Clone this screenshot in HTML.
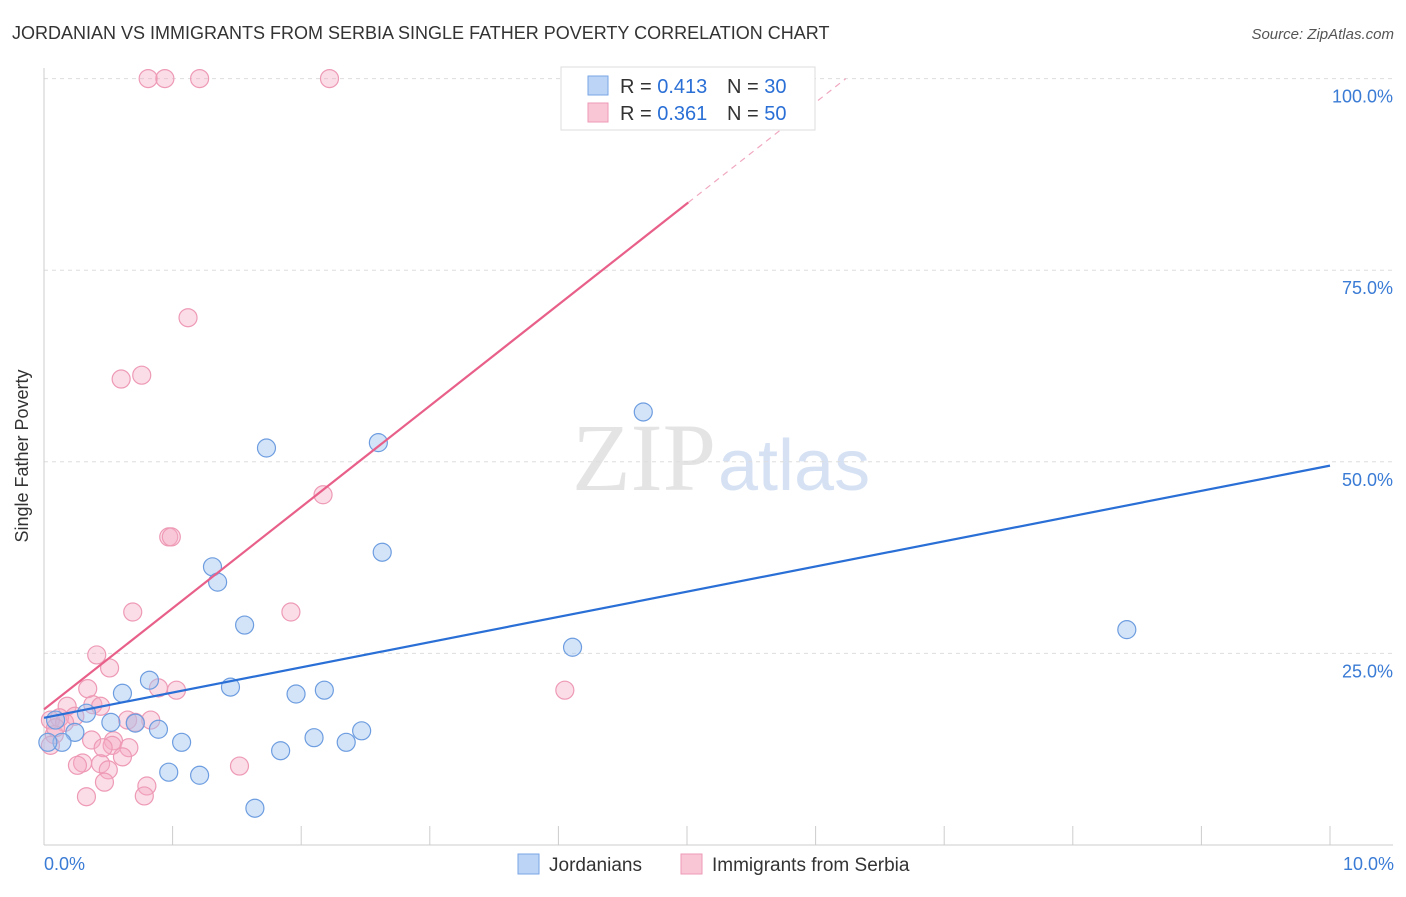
<!DOCTYPE html>
<html><head><meta charset="utf-8"><style>
body{margin:0;background:#fff;font-family:"Liberation Sans",sans-serif;}
</style></head><body>
<svg width="1406" height="892" xmlns="http://www.w3.org/2000/svg">
<text x="12" y="39" font-size="18" fill="#333">JORDANIAN VS IMMIGRANTS FROM SERBIA SINGLE FATHER POVERTY CORRELATION CHART</text>
<text x="1394" y="39" font-size="15" fill="#555" font-style="italic" text-anchor="end">Source: ZipAtlas.com</text>
<text x="716" y="490" font-size="96" fill="#e4e4e4" text-anchor="end" font-family="Liberation Serif,serif">ZIP</text>
<text x="718" y="490" font-size="72" fill="#d6e2f4">atlas</text>
<g id="grid"></g>
<line x1="44" y1="68" x2="44" y2="845" stroke="#ccc"/>
<line x1="44" y1="845" x2="1393" y2="845" stroke="#ccc"/>
<g id="ticks"></g>
<text x="28" y="456" font-size="18" fill="#333" text-anchor="middle" transform="rotate(-90 28 456)">Single Father Poverty</text>
<text x="44" y="870" font-size="18" fill="#3a7bd5">0.0%</text>
<text x="1394" y="870" font-size="18" fill="#3a7bd5" text-anchor="end">10.0%</text>
<g id="marks"></g>
<g>
<rect x="561" y="67" width="254" height="63" fill="#fff" stroke="#ddd"/>
<rect x="588" y="76" width="20" height="19" fill="#bcd4f5" stroke="#7aa6e6"/>
<rect x="588" y="103" width="20" height="19" fill="#f9c6d6" stroke="#ee9ab5"/>
<text x="620" y="93" font-size="20" fill="#333">R = <tspan fill="#2a6fd6">0.413</tspan></text>
<text x="727" y="93" font-size="20" fill="#333">N = <tspan fill="#2a6fd6">30</tspan></text>
<text x="620" y="120" font-size="20" fill="#333">R = <tspan fill="#2a6fd6">0.361</tspan></text>
<text x="727" y="120" font-size="20" fill="#333">N = <tspan fill="#2a6fd6">50</tspan></text>
</g>
<g>
<rect x="518" y="854" width="21" height="20" fill="#bcd4f5" stroke="#7aa6e6"/>
<text x="549" y="871" font-size="19" fill="#333">Jordanians</text>
<rect x="681" y="854" width="21" height="20" fill="#f9c6d6" stroke="#ee9ab5"/>
<text x="712" y="871" font-size="19" fill="#333">Immigrants from Serbia</text>
</g>
</svg>
<script>
const yTicks=[25,50,75,100];
const yTickLabels=["25.0%","50.0%","75.0%","100.0%"];
const xTicks=[0,1,2,3,4,5,6,7,8,9,10];
const blueX=[1.73,2.60,4.66,2.63,1.31,1.35,1.56,4.11,8.42,0.82,0.61,1.45,1.96,2.18,0.33,0.52,0.71,0.89,0.24,0.09,1.07,2.10,2.35,2.47,1.84,0.97,1.21,1.64,0.14,0.03];
const blueY=[51.8,52.5,56.5,38.2,36.3,34.3,28.7,25.8,28.1,21.5,19.8,20.6,19.7,20.2,17.2,16.0,15.9,15.1,14.7,16.3,13.4,14.0,13.4,14.9,12.3,9.5,9.1,4.8,13.4,13.4];
const pinkX=[0.81,0.94,1.21,2.22,1.12,0.60,0.76,0.97,0.99,2.17,0.69,1.92,0.41,0.51,0.89,1.03,0.34,4.05,0.38,0.18,0.44,0.24,0.12,0.05,0.16,0.65,0.83,0.71,0.37,0.54,0.53,0.66,0.46,0.08,0.05,0.61,0.30,0.26,0.44,0.50,1.52,0.80,0.47,0.33,0.78,0.09];
const pinkY=[100,100,100,100,68.8,60.8,61.3,40.2,40.2,45.7,30.4,30.4,24.8,23.1,20.5,20.2,20.4,20.2,18.3,18.1,18.1,16.8,16.6,16.3,16.0,16.3,16.3,16.0,13.7,13.6,13.0,12.7,12.7,14.4,13.0,11.5,10.7,10.4,10.6,9.8,10.3,7.7,8.2,6.3,6.4,15.3];
const blueLine=[16.6,49.5];
const pinkLine=[17.7,13.2];
const sx=v=>44+v*128.6, sy=v=>845-v*7.664;
const NS="http://www.w3.org/2000/svg";
function mk(t,a,p){const e=document.createElementNS(NS,t);for(const k in a)e.setAttribute(k,a[k]);document.getElementById(p).appendChild(e);return e;}
yTicks.forEach((v,i)=>{
 const l=mk('line',{x1:44,x2:1393,y1:sy(v),y2:sy(v),stroke:'#ddd','stroke-dasharray':'4,4'},'grid');
 
 
 const t=mk('text',{x:1393,y:sy(v)+24,'font-size':18,fill:'#3a7bd5','text-anchor':'end'},'ticks');
 t.textContent=yTickLabels[i];
 
 
});
xTicks.forEach(v=>{
 const l=mk('line',{x1:sx(v),x2:sx(v),y1:826,y2:845,stroke:'#ccc'},'ticks');
 
 
});
pinkX.forEach((x,i)=>{
 const c=mk('circle',{cx:sx(x),cy:sy(pinkY[i]),r:9,fill:'rgba(246,170,196,0.4)',stroke:'#ee9ab5','stroke-width':1.2},'marks');
 
 
});
blueX.forEach((x,i)=>{
 const c=mk('circle',{cx:sx(x),cy:sy(blueY[i]),r:9,fill:'rgba(160,196,240,0.45)',stroke:'#6d9de0','stroke-width':1.2},'marks');
 
 
});
const bl=mk('line',{x1:sx(0),y1:sy(blueLine[0]),x2:sx(10),y2:sy(blueLine[1]),stroke:'#2a6fd6','stroke-width':2.2},'marks');


const xe=5.01, xd=(100-pinkLine[0])/pinkLine[1];
const pl=mk('line',{x1:sx(0),y1:sy(pinkLine[0]),x2:sx(xe),y2:sy(pinkLine[0]+pinkLine[1]*xe),stroke:'#e8608a','stroke-width':2.2},'marks');


const pd=mk('line',{x1:sx(xe),y1:sy(pinkLine[0]+pinkLine[1]*xe),x2:sx(xd),y2:sy(100),stroke:'#f0a8bf','stroke-width':1.2,'stroke-dasharray':'6,5'},'marks');


</script>
</body></html>
